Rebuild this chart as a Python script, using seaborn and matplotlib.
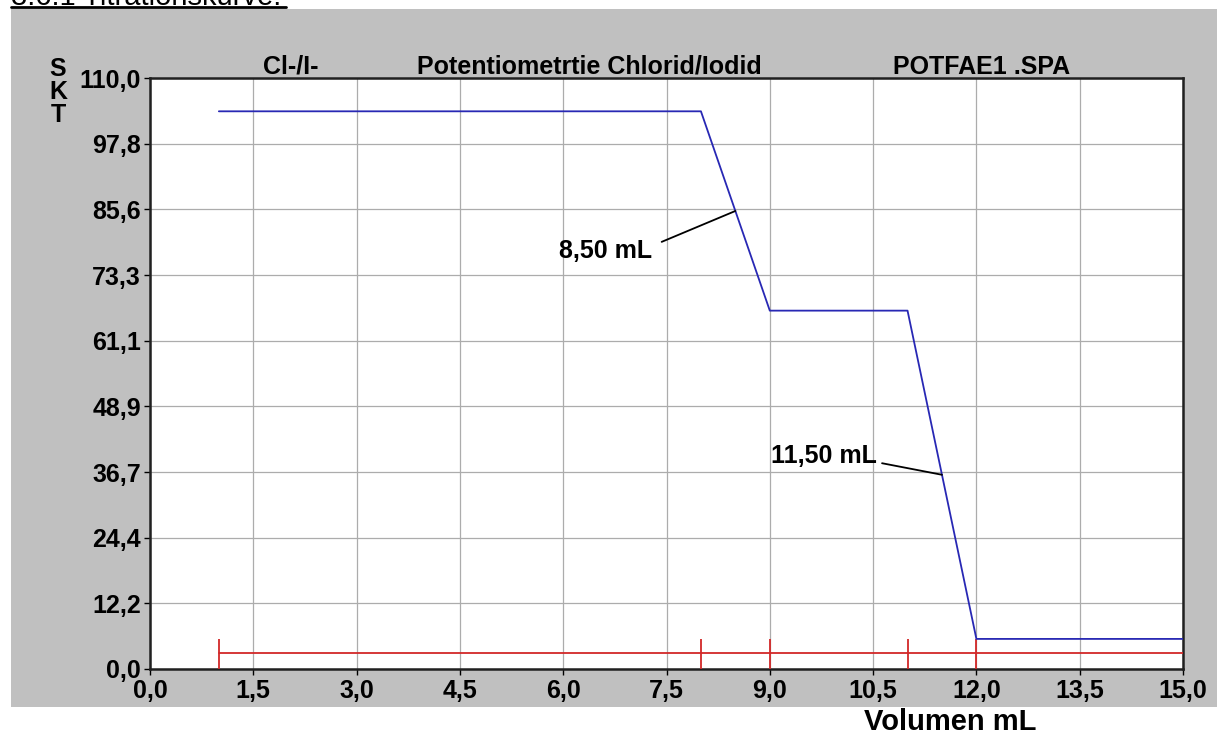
import numpy as np
import matplotlib
matplotlib.use("Agg")
import matplotlib.pyplot as plt
import seaborn as sns
from matplotlib.patches import Rectangle
from matplotlib.lines import Line2D

# ---- data ----
volume_ml = [1.0, 8.0, 9.0, 11.0, 12.0, 15.0]
skt_values = [103.8, 103.8, 66.7, 66.7, 5.6, 5.6]
baseline_x = [1.0, 15.0]
baseline_y = [2.9, 2.9]
marker_volumes = [1.0, 8.0, 9.0, 11.0, 12.0]
marker_height = 5.5
endpoint_volumes = [8.5, 11.5]
endpoint_labels = ["8,50 mL", "11,50 mL"]
x_ticks = [0.0, 1.5, 3.0, 4.5, 6.0, 7.5, 9.0, 10.5, 12.0, 13.5, 15.0]
x_tick_labels = ["0,0", "1,5", "3,0", "4,5", "6,0", "7,5", "9,0", "10,5", "12,0", "13,5", "15,0"]
y_ticks = list(np.linspace(0, 110, 10))
y_tick_labels = ["0,0", "12,2", "24,4", "36,7", "48,9", "61,1", "73,3", "85,6", "97,8", "110,0"]
header_texts = ["Cl-/I-", "Potentiometrtie Chlorid/Iodid", "POTFAE1 .SPA"]
page_heading = "3.6.1 Titrationskurve:"

sns.set_theme(style="white")
plt.rcParams["font.family"] = ["Liberation Sans", "DejaVu Sans"]

W, H = 1217, 735
fig = plt.figure(figsize=(W / 100, H / 100), dpi=100, facecolor="white")

# gray window background
fig.patches.append(Rectangle((11 / W, (H - 707) / H), 1 - 11 / W, (707 - 9) / H,
                             transform=fig.transFigure, facecolor="#c0c0c0",
                             edgecolor="none", zorder=-10))

L, R, T, B = 150, 1183, 78, 669
ax = fig.add_axes([L / W, 1 - B / H, (R - L) / W, (B - T) / H])
ax.set_facecolor("white")

# curve
sns.lineplot(x=volume_ml, y=skt_values, ax=ax, color="#2828b4", linewidth=1.3,
             sort=False, estimator=None, zorder=5)
# red baseline + markers
sns.lineplot(x=baseline_x, y=baseline_y, ax=ax, color="#d22828", linewidth=1.3,
             sort=False, estimator=None, zorder=4)
ax.vlines(marker_volumes, 0, marker_height, color="#d22828", linewidth=1.3, zorder=4)

ax.set_xlim(0, 15)
ax.set_ylim(0, 110)
ax.set_xticks(x_ticks)
ax.set_xticklabels(x_tick_labels)
ax.set_yticks(y_ticks)
ax.set_yticklabels(y_tick_labels)
ax.grid(True, color="#acacac", linewidth=0.9)
ax.set_axisbelow(True)
ax.tick_params(axis="both", which="major", direction="out", length=4.5, width=1,
               color="black", labelsize=18, labelcolor="black")
ax.tick_params(axis="x", pad=2.5)
ax.tick_params(axis="y", pad=2)
ax.tick_params(left=True, bottom=True)
for lab in ax.get_xticklabels() + ax.get_yticklabels():
    lab.set_fontweight("bold")
for s in ax.spines.values():
    s.set_visible(True)
    s.set_color("#202020")
    s.set_linewidth(1.8)

# axis labels
ax.set_ylabel("S\nK\nT", rotation=0, fontsize=18, fontweight="bold", color="black",
              linespacing=0.95, ha="center", va="center")
ax.yaxis.set_label_coords((58 - L) / (R - L), (B - 92) / (B - T))
ax.set_xlabel("Volumen mL", fontsize=21, fontweight="bold", color="black")
ax.xaxis.set_label_coords((950 - L) / (R - L), (B - 730) / (B - T))
ax.xaxis.label.set_verticalalignment("baseline")

# header texts
header_x = [263, 417, 893]
for txt, px in zip(header_texts, header_x):
    ax.text((px - L) / (R - L), (B - 74) / (B - T), txt, transform=ax.transAxes,
            ha="left", va="baseline", fontsize=18, fontweight="bold", color="black")

# endpoint annotations
text_pos = [(7.29, 76.5), (10.56, 38.3)]
line_start = [(7.43, 79.5), (10.63, 38.3)]
for v, lab, tp, ls in zip(endpoint_volumes, endpoint_labels, text_pos, line_start):
    yv = np.interp(v, volume_ml, skt_values)
    ax.annotate("", xy=(v, yv), xytext=ls, textcoords="data",
                arrowprops=dict(arrowstyle="-", color="black", lw=1.3,
                                shrinkA=0, shrinkB=0), zorder=6)
    ax.text(tp[0], tp[1], lab, ha="right", va="baseline", fontsize=18,
            fontweight="bold", color="black", zorder=6)

# page heading (cut at top edge, as in the reference)
fig.text(11 / W, 1 - 5 / H, page_heading, ha="left", va="baseline", fontsize=21,
         color="black")
fig.lines.append(Line2D([11 / W, 286 / W], [1 - 7.3 / H, 1 - 7.3 / H],
                        transform=fig.transFigure, color="black", linewidth=2))

fig.savefig("out.png", dpi=100, facecolor="white")
